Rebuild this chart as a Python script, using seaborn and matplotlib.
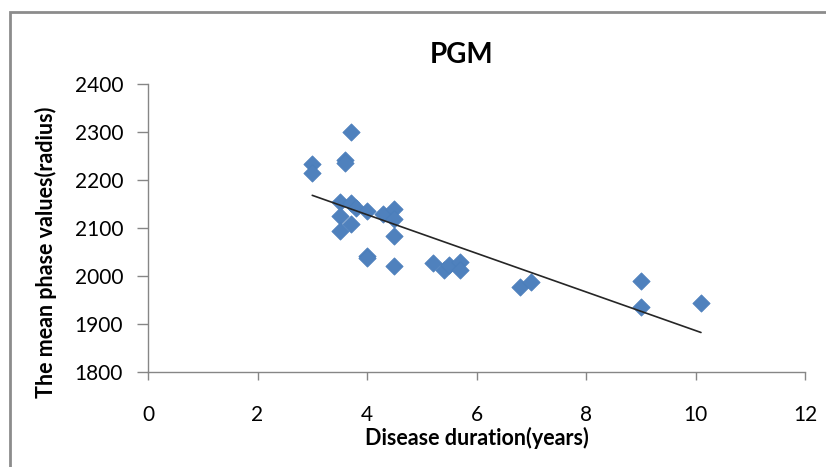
import matplotlib
matplotlib.use("Agg")
import matplotlib.pyplot as plt
import seaborn as sns
import pandas as pd
from matplotlib.patches import Rectangle

# Data
duration_years = [3.0, 3.0, 3.7, 3.6, 3.6, 3.5, 3.7, 3.8, 4.0, 3.5, 3.7, 3.5,
                  4.0, 4.0, 4.3, 4.5, 4.5, 4.5, 4.5, 5.2, 5.4, 5.5, 5.7, 5.7,
                  6.8, 7.0, 9.0, 9.0, 10.1]
mean_phase = [2234, 2215, 2300, 2241, 2235, 2154, 2151, 2142, 2136, 2125, 2109, 2094,
              2042, 2037, 2128, 2139, 2118, 2084, 2020, 2027, 2013, 2022, 2029, 2012,
              1977, 1988, 1989, 1935, 1943]
x_ticks = [0, 2, 4, 6, 8, 10, 12]
y_ticks = [1800, 1900, 2000, 2100, 2200, 2300, 2400]

df = pd.DataFrame({"duration": duration_years, "phase": mean_phase})

sns.set_style("white")
plt.rcParams["font.family"] = ["Lato", "DejaVu Sans"]

W, H = 826, 467
L, R, T, B = 148, 805, 84, 371.7
fig = plt.figure(figsize=(W / 100, H / 100), dpi=100)
ax = fig.add_axes([L / W, 1 - B / H, (R - L) / W, (B - T) / H])

sns.regplot(data=df, x="duration", y="phase", ax=ax, ci=None, marker="D",
            scatter_kws=dict(s=78, color="#4F81BD", edgecolor="#4A7EBB", linewidths=0.5, alpha=1),
            line_kws=dict(color="#262626", linewidth=1.2))

ax.set_xlim(0, 12)
ax.set_ylim(1800, 2400)
ax.set_xticks(x_ticks)
ax.set_yticks(y_ticks)
ax.tick_params(axis="both", labelsize=15, width=1, color="#868686",
               direction="out", left=True, bottom=True, labelcolor="black")
ax.tick_params(axis="x", length=6, pad=18)
ax.tick_params(axis="y", length=8, pad=10)
for side in ["top", "right"]:
    ax.spines[side].set_visible(False)
for side in ["left", "bottom"]:
    ax.spines[side].set_color("#868686")
    ax.spines[side].set_linewidth(1.0)

ax.set_xlabel("Disease duration(years)", fontsize=15.5, fontweight="bold", color="black")
ax.xaxis.set_label_coords(0.5, -(445 - B) / (B - T))
ax.xaxis.label.set_verticalalignment("baseline")

ax.set_ylabel("The mean phase values(radius)", fontsize=15.5, fontweight="bold", color="black")
ax.yaxis.set_label_coords(-(L - 57) / (R - L), 1 - (252 - T) / (B - T))

fig.text(462 / W, 1 - 63.3 / H, "PGM", fontsize=20, fontweight="bold",
         ha="center", va="baseline", color="black")

# outer chart border
fig.patches.append(Rectangle((9.5 / W, -0.2), 1.2, 1 - 11.5 / H + 0.2,
                             transform=fig.transFigure, fill=False,
                             edgecolor="#8C8C8C", linewidth=2))

fig.savefig("out.png", dpi=100)
